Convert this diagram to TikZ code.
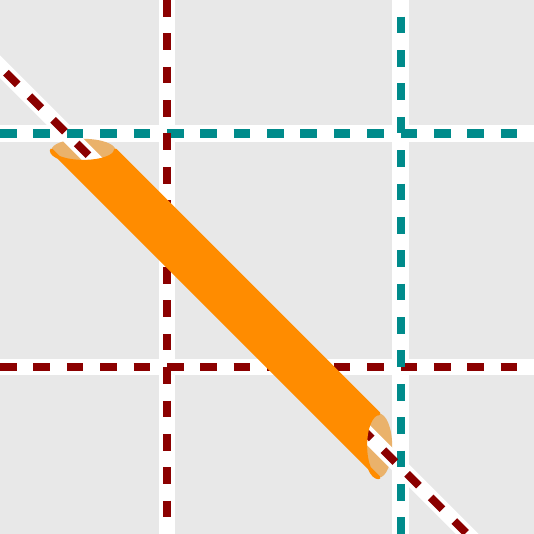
\documentclass[tikz,border=0pt]{standalone}
\definecolor{bggray}{HTML}{E8E8E8}
\definecolor{lanered}{HTML}{8B0000}
\definecolor{laneteal}{HTML}{008B8B}
\definecolor{tubeorange}{HTML}{FF8C00}
\definecolor{tubelight}{HTML}{EAB26B}
\begin{document}
\begin{tikzpicture}[
      x=1cm,y=-1cm,
      lane/.style={white,line width=0.48cm},
      redlane/.style={lanered,line width=0.24cm,dash pattern=on 0.5cm off 0.5cm},
      teallane/.style={laneteal,line width=0.24cm,dash pattern=on 0.5cm off 0.5cm},
      tube/.style={fill=tubeorange,draw=tubeorange,line width=0.1cm,line join=round},
      capface/.style={fill=tubelight},
    ]
    \useasboundingbox (0,0) rectangle (16,16);
    \clip (0,0) rectangle (16,16);
    \fill[bggray] (0,0) rectangle (16,16);
    \draw[lane] (0,4) -- (16,4);
    \draw[lane] (0,11) -- (16,11);
    \draw[lane] (5,0) -- (5,16);
    \draw[lane] (12,0) -- (12,16);
    \fill[capface] (2.5,4.5) ellipse [x radius=0.96cm,y radius=0.34cm];
    \fill[capface] (11.35,13.35) ellipse [x radius=0.4cm,y radius=0.96cm];
    \draw[lane] (-1,1) -- (15,17);
    \draw[teallane] (0,4) -- (16,4);
    \draw[redlane] (0,11) -- (16,11);
    \draw[redlane] (5,0) -- (5,16);
    \draw[teallane,dash phase=0.5cm] (12,0) -- (12,16);
    \draw[redlane,dash phase=0.336cm] (-1,1) -- (15,17);
    \path[tube] (1.54,4.5) arc[start angle=180,end angle=360,x radius=0.96cm,y radius=0.34cm]
      -- (11.35,12.39) arc[start angle=90,end angle=270,x radius=0.4cm,y radius=0.96cm]
      -- cycle;
  \end{tikzpicture}
\end{document}
